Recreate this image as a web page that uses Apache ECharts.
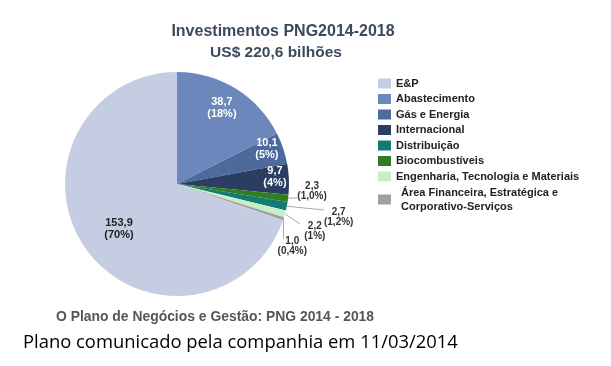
<!DOCTYPE html>
<html>
<head>
<meta charset="utf-8">
<script src="https://cdn.jsdelivr.net/npm/echarts@6/dist/echarts.min.js"></script>
<style>
html,body{margin:0;padding:0;background:#fff;}
#chart{width:611px;height:366px;}
</style>
</head>
<body>
<div id="chart"></div>
<script>
// Data (pie order, clockwise from 12 o'clock)
const categories = ['Abastecimento','Gás e Energia','Internacional','Biocombustíveis','Distribuição','Engenharia, Tecnologia e Materiais','Área Financeira, Estratégica e Corporativo-Serviços','E&P'];
const values = [38.7, 10.1, 9.7, 2.3, 2.7, 2.2, 1.0, 153.9];
const percentLabels = ['18%','5%','4%','1,0%','1,2%','1%','0,4%','70%'];
const legendOrder = ['E&P','Abastecimento','Gás e Energia','Internacional','Distribuição','Biocombustíveis','Engenharia, Tecnologia e Materiais','Área Financeira, Estratégica e Corporativo-Serviços'];

// Styles
const colors = ['#6c87bb','#4e6a9c','#2b3d63','#2f7f22','#157a73','#c6efc6','#a0a0a0','#c5cde3'];
const insideIdx = [0,1,2,7];
const labelColors = ['#ffffff','#ffffff','#ffffff','#333','#333','#333','#333','#222'];
const labelShift = [[14,-26],[34,-16],[39,-5],[0,-8],[28,10],[6,16],[-15,26],[-10,11]];

const fmt = v => v.toFixed(1).replace('.', ',');

const data = categories.map((name, i) => {
  const inside = insideIdx.indexOf(i) >= 0;
  return {
    name: name,
    value: values[i],
    itemStyle: {color: colors[i]},
    label: {
      position: inside ? 'inside' : 'outside',
      formatter: '{a|' + fmt(values[i]) + '}\n{a|(' + percentLabels[i] + ')}',
      rich: {
        a: {
          color: labelColors[i],
          fontSize: inside ? 11 : 10,
          fontWeight: 'bold',
          fontFamily: 'Liberation Sans, Arial, sans-serif',
          lineHeight: inside ? 12 : 10,
          align: 'center',
          width: 30
        }
      }
    },
    labelLine: {show: !inside, length: 4, length2: 0, lineStyle: {color: '#a8a8a8', width: 1}}
  };
});

const chart = echarts.init(document.getElementById('chart'), null, {renderer: 'canvas'});
chart.setOption({
  backgroundColor: '#ffffff',
  animation: false,
  legend: {
    orient: 'vertical',
    left: 378,
    top: 77,
    padding: 0,
    itemWidth: 13,
    itemHeight: 10,
    itemGap: 2.5,
    icon: 'rect',
    data: legendOrder,
    selectedMode: false,
    formatter: function (name) {
      if (name.indexOf('Área') === 0) {
        return '{b|Área Financeira, Estratégica e}\n{b|Corporativo-Serviços}';
      }
      return name;
    },
    textStyle: {
      fontFamily: 'Liberation Sans, Arial, sans-serif',
      fontSize: 11,
      fontWeight: 'bold',
      color: '#222',
      lineHeight: 13,
      rich: {
        b: {fontFamily: 'Liberation Sans, Arial, sans-serif', fontSize: 11, fontWeight: 'bold', color: '#222', lineHeight: 14, padding: [0,0,0,5]}
      }
    }
  },
  graphic: [
    {type: 'text', style: {text: 'Investimentos PNG2014-2018', x: 283, y: 32, textAlign: 'center', textVerticalAlign: 'middle', fill: '#3b4a5c', font: 'bold 16px "Liberation Sans", Arial, sans-serif'}},
    {type: 'text', style: {text: 'US$ 220,6 bilhões', x: 276, y: 53, textAlign: 'center', textVerticalAlign: 'middle', fill: '#3b4a5c', font: 'bold 15.5px "Liberation Sans", Arial, sans-serif'}},
    {type: 'text', style: {text: 'O Plano de Negócios e Gestão: PNG 2014 - 2018', x: 56, y: 317, textAlign: 'left', textVerticalAlign: 'middle', fill: '#5a5550', font: 'bold 13.9px "Liberation Sans", Arial, sans-serif'}},
    {type: 'text', style: {text: 'Plano comunicado pela companhia em 11/03/2014', x: 23, y: 343, textAlign: 'left', textVerticalAlign: 'middle', fill: '#000', font: '18.4px "Open Sans", sans-serif'}}
  ],
  series: [{
    type: 'pie',
    center: [177, 184],
    radius: [0, 112],
    startAngle: 90,
    clockwise: true,
    avoidLabelOverlap: false,
    silent: true,
    data: data,
    labelLayout: function (params) {
      const s = labelShift[params.dataIndex];
      const out = {dx: s[0], dy: s[1], hideOverlap: false};
      const pts = params.labelLinePoints;
      if (pts && pts.length && insideIdx.indexOf(params.dataIndex) < 0) {
        const r = params.labelRect;
        const x0 = r.x + s[0], y0 = r.y + s[1];
        const p = pts[0];
        const ex = Math.min(Math.max(p[0], x0), x0 + r.width);
        const ey = Math.min(Math.max(p[1], y0 + 3), y0 + r.height - 3);
        out.labelLinePoints = [[p[0], p[1]], [(p[0] + ex) / 2, (p[1] + ey) / 2], [ex, ey]];
      }
      return out;
    }
  }]
});
</script>
</body>
</html>
